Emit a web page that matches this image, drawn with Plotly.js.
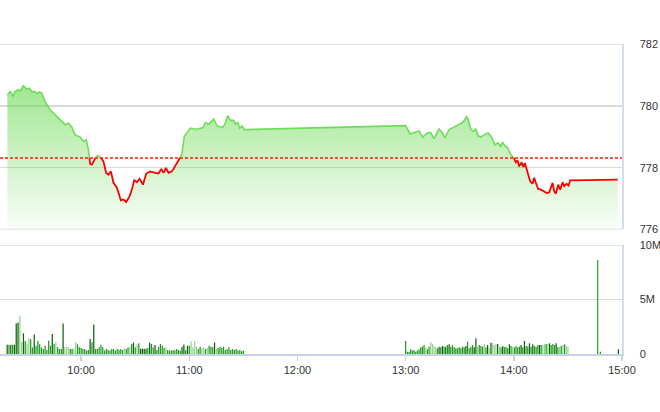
<!DOCTYPE html>
<html><head><meta charset="utf-8">
<script src="https://cdn.plot.ly/plotly-3.0.1.min.js"></script>
<style>html,body{margin:0;padding:0;background:#fff;}#chart{width:660px;height:412px;}</style>
</head><body><div id="chart"></div>
<script>
const day = '2018-01-01 ';
const refPrice = 778.31;
const priceTicks = [776, 778, 780, 782];
const volumeTicks = [0, 5, 10];
const volumeTickText = ['0', '5M', '10M'];

const priceTimes = [
'09:19:04','09:20:33','09:21:30','09:22:23','09:23:20','09:25:10','09:26:07','09:27:56','09:29:50','09:31:17',
'09:32:37','09:34:27','09:35:23','09:36:50','09:38:10','09:40:00','09:42:47','09:45:33','09:48:20','09:51:07',
'09:52:57','09:54:50','09:56:40','09:59:27','10:01:17','10:02:47','10:04:03','10:05:00','10:05:57','10:07:13',
'10:09:03','10:10:33','10:12:23','10:13:53','10:15:10','10:16:30','10:17:57','10:19:50','10:20:43','10:22:03',
'10:23:30','10:25:00','10:26:50','10:28:10','10:29:27','10:30:57','10:32:23','10:34:17','10:36:07','10:38:20',
'10:41:07','10:42:57','10:44:27','10:45:43','10:47:03','10:48:30','10:50:23','10:52:13','10:54:03','10:55:57',
'10:57:13','10:58:43','11:00:33','11:02:23','11:05:10','11:07:37','11:08:53','11:10:43','11:13:30','11:15:23',
'11:17:13','11:18:30','11:20:00','11:21:17','11:22:47','11:24:37','11:25:33','11:26:50','11:27:57','11:29:17',
'11:30:33',
'13:00:00','13:02:23','13:04:37','13:07:23','13:09:26','13:12:03','13:13:53','13:15:43','13:18:30','13:20:23',
'13:21:50','13:24:03','13:26:50','13:29:37','13:31:30','13:32:47','13:33:43','13:34:37','13:36:07','13:37:37',
'13:38:53','13:40:10','13:41:40','13:43:30','13:45:43','13:47:37','13:49:27','13:51:17','13:52:47','13:53:43',
'13:55:00','13:56:30','13:58:20','13:59:50','14:01:07','14:02:03','14:02:57','14:04:17','14:05:23','14:06:07',
'14:07:37','14:09:03','14:10:23','14:11:17','14:12:13','14:13:30','14:15:00','14:16:50','14:18:20','14:19:37',
'14:21:30','14:22:23','14:23:20','14:24:37','14:25:43','14:27:03','14:27:57','14:29:17','14:30:23','14:31:17',
'14:57:37'
];
const priceValues = [
780.35,780.46,780.41,780.30,780.46,780.52,780.48,780.65,780.54,780.57,
780.46,780.46,780.39,780.45,780.41,780.14,779.87,779.71,779.57,779.39,
779.44,779.31,779.06,778.99,778.85,778.90,778.58,778.12,778.10,778.26,
778.39,778.35,778.20,777.83,777.77,777.88,777.51,777.35,777.18,776.94,
776.97,776.89,777.07,777.29,777.59,777.53,777.64,777.45,777.81,777.88,
777.83,777.81,777.96,777.83,777.99,777.83,777.88,778.06,778.20,778.47,
779.01,779.12,779.28,779.25,779.26,779.30,779.46,779.41,779.57,779.35,
779.33,779.30,779.44,779.68,779.53,779.53,779.41,779.46,779.28,779.35,
779.23,
779.36,779.09,779.14,779.19,778.99,779.12,779.14,778.93,779.25,779.12,
778.96,779.23,779.31,779.39,779.46,779.55,779.65,779.57,779.25,779.17,
779.25,779.03,778.99,779.06,779.12,778.99,778.74,778.80,778.69,778.82,
778.71,778.64,778.42,778.33,778.17,778.24,778.04,778.17,778.02,778.15,
777.88,777.56,777.48,777.67,777.51,777.31,777.29,777.24,777.18,777.20,
777.51,777.24,777.16,777.45,777.29,777.53,777.40,777.48,777.42,777.59,
777.61
];

// Volume (millions), morning session one bar per minute 09:19 -> 11:30
const morningStart = '09:19:00', morningEnd = '11:30:00';
const morningVolumes = [
0.85,0.85,0.85,0.85,0.85,2.8,2.9,3.5,1.1,1.9,
1.2,0.92,1.45,1.35,0.6,1.8,0.76,1.2,0.9,0.6,
0.46,0.76,0.37,1.22,0.76,1.83,0.92,1.07,0.61,0.46,
0.46,2.8,0.61,0.66,0.61,0.46,0.46,0.52,1.1,0.9,
0.61,0.55,0.46,0.46,0.31,0.37,1.38,1.07,2.7,0.46,
0.46,0.61,0.85,0.61,0.31,0.46,0.37,0.31,0.46,0.46,
0.31,0.46,0.4,0.46,0.37,0.55,0.46,0.6,0.67,0.92,
1.04,0.61,0.86,0.98,0.49,0.49,0.49,0.49,0.55,1.04,
0.92,0.61,0.83,0.37,0.67,0.92,0.76,0.55,0.61,0.37,
0.31,0.31,0.37,0.31,0.46,0.37,0.31,0.67,0.86,0.37,
0.76,0.76,1.16,0.61,1.22,0.67,0.46,0.67,0.55,0.61,
0.46,0.55,0.76,0.67,0.61,1.07,0.46,0.55,0.67,0.55,
0.67,0.37,0.46,0.61,0.37,0.46,0.37,0.46,0.31,0.37,
0.25,0.31
];
const morningClass = 'dmdmdddlldmllmmdmmmmmmmmmdmlmmmdlllmmllmmmmmmmdmdmmmmmmmmmmmmmmmmlmmlmdmlmddddmdmmdmmmmmlmmmmmmmmddmdmllllmmllmlmmmdlmmmmmmmmmmmmmmm';

// afternoon session 13:00 -> 14:30
const afternoonStart = '13:00:00', afternoonEnd = '14:30:00';
const afternoonVolumes = [
1.19,0.21,0.21,0.43,0.31,0.37,0.21,0.31,0.43,0.61,
0.67,0.83,0.61,0.43,0.67,1.07,0.92,0.73,0.61,0.52,
0.67,0.61,0.73,0.67,0.67,0.83,0.89,0.67,0.83,0.61,
0.52,0.52,0.61,0.52,0.67,0.61,0.73,1.13,0.52,0.67,
0.83,0.61,1.44,0.67,0.83,0.73,0.67,0.89,0.61,0.83,
0.52,1.04,0.98,0.83,0.89,0.92,0.67,0.61,0.73,0.61,
0.67,0.52,0.89,0.73,0.67,0.61,0.73,0.61,0.67,0.83,
0.61,1.19,0.73,0.67,0.98,0.67,0.89,0.73,0.67,0.83,
0.83,0.83,0.83,0.89,0.92,0.92,0.98,0.83,0.92,0.83,
0.98,0.61,0.67,0.73,0.83,0.89,0.73,0.67
];
const afternoonClass = 'mmmmmmmmmmmmlmmllllmdmdmdmdmmmmmmmmmdmmmmddlmmmlmdldllldlmdmmmdmlmmmmdmdmmdmdmmmdmllmldmmmdmlmlmll';

// closing auction
const closeTimes = ['14:46:30','14:48:00','14:58:00'];
const closeVolumes = [8.62, 0.2, 0.43];
const closeClass = 'amd';

const classColors = {d:'#0b650b', m:'#1f9a1f', l:'#92d48d', a:'#27ab27'};

const pad = n => String(n).padStart(2,'0');
const sec = t => { const p = t.split(':').map(Number); return p[0]*3600 + p[1]*60 + (p[2]||0); };
const fmt = s => { if (s === null) return null; s = Math.round(s); return day + pad(Math.floor(s/3600)) + ':' + pad(Math.floor(s%3600/60)) + ':' + pad(s%60); };

// split price line into above/below reference runs
const T = priceTimes.map(sec);
const runs = {g:{x:[],y:[]}, r:{x:[],y:[]}};
let cur = priceValues[0] >= refPrice ? 'g' : 'r';
runs[cur].x.push(T[0]); runs[cur].y.push(priceValues[0]);
for (let i = 1; i < T.length; i++) {
  const c = priceValues[i] >= refPrice ? 'g' : 'r';
  if (c !== cur) {
    const f = (refPrice - priceValues[i-1]) / (priceValues[i] - priceValues[i-1]);
    const tc = T[i-1] + f * (T[i] - T[i-1]);
    runs[cur].x.push(tc, null); runs[cur].y.push(refPrice, null);
    runs[c].x.push(tc); runs[c].y.push(refPrice);
    cur = c;
  }
  runs[cur].x.push(T[i]); runs[cur].y.push(priceValues[i]);
}

function spread(start, end, n) {
  const a = sec(start), b = sec(end);
  const out = [];
  for (let i = 0; i < n; i++) out.push(fmt(a + (b - a) * i / (n - 1)));
  return out;
}
const volX = spread(morningStart, morningEnd, morningVolumes.length)
  .concat(spread(afternoonStart, afternoonEnd, afternoonVolumes.length))
  .concat(closeTimes.map(t => fmt(sec(t))));
const volY = morningVolumes.concat(afternoonVolumes, closeVolumes);
const volC = (morningClass + afternoonClass + closeClass).split('').map(k => classColors[k]);

const xRange = [day + '09:15:00', day + '15:00:00'];
const priceRange = [priceTicks[0], priceTicks[priceTicks.length-1]];
const volRange = [volumeTicks[0], volumeTicks[volumeTicks.length-1]];

const traces = [
  {x: T.map(fmt), y: priceValues, type:'scatter', mode:'lines', line:{width:0, color:'rgba(0,0,0,0)'},
   fill:'tozeroy', fillgradient:{type:'vertical', start:776, stop:780.7,
     colorscale:[[0,'rgba(95,215,70,0.03)'],[1,'rgba(95,215,70,0.6)']]},
   hoverinfo:'skip', xaxis:'x', yaxis:'y'},
  {x: runs.g.x.map(fmt), y: runs.g.y, type:'scatter', mode:'lines', connectgaps:false,
   line:{color:'#6fdc5c', width:1.6}, hoverinfo:'skip', xaxis:'x', yaxis:'y'},
  {x: runs.r.x.map(fmt), y: runs.r.y, type:'scatter', mode:'lines', connectgaps:false,
   line:{color:'#ff0000', width:1.8}, hoverinfo:'skip', xaxis:'x', yaxis:'y'},
  {x: volX, y: volY, type:'bar', marker:{color: volC, line:{width:0}}, hoverinfo:'skip', xaxis:'x2', yaxis:'y2'}
];

const gridColor = '#dadada';
const edgeGrid = (yref, v) => ({type:'line', layer:'below', xref:'paper', x0:0, x1:1, yref:yref, y0:v, y1:v,
  line:{color:gridColor, width:1.5}});

const tickFont = {family:'"Liberation Sans", Arial, sans-serif', size:11, color:'#333'};
const layout = {
  width:660, height:412, margin:{l:0, r:38, t:0, b:0},
  paper_bgcolor:'#fff', plot_bgcolor:'rgba(0,0,0,0)', showlegend:false,
  font: tickFont, bargap:0.25,
  xaxis:{type:'date', range:xRange, visible:false, anchor:'y', domain:[0,1], fixedrange:true},
  yaxis:{domain:[0.443,0.8932], range:priceRange, side:'right', tickvals:priceTicks,
    gridcolor:gridColor, gridwidth:1.5, showline:true, linecolor:'#d3dde8', linewidth:1.5,
    zeroline:false, ticks:'outside', ticklen:14, tickcolor:'rgba(0,0,0,0)', tickfont:tickFont, fixedrange:true},
  xaxis2:{type:'date', anchor:'y2', range:xRange, domain:[0,1], tickformat:'%H:%M', dtick:3600000,
    tick0: day + '10:00:00', showgrid:false, showline:true, linecolor:'#c5d3e2', linewidth:2,
    ticks:'outside', ticklen:5, tickwidth:1.5, tickcolor:'#c5d3e2', tickfont:tickFont, zeroline:false},
  yaxis2:{domain:[0.1408,0.4053], range:volRange, side:'right', tickvals:volumeTicks, ticktext:volumeTickText,
    gridcolor:gridColor, gridwidth:1.5, showline:true, linecolor:'#d3dde8', linewidth:1.5,
    zeroline:false, ticks:'outside', ticklen:14, tickcolor:'rgba(0,0,0,0)', tickfont:tickFont, fixedrange:true},
  shapes:[
    edgeGrid('y', priceRange[0]), edgeGrid('y', priceRange[1]), edgeGrid('y2', volRange[1]),
    {type:'line', xref:'paper', x0:0, x1:1, yref:'y', y0:refPrice, y1:refPrice,
     line:{color:'#ff1a00', width:1.5, dash:'3px,2px'}}]
};

Plotly.newPlot('chart', traces, layout, {displayModeBar:false, staticPlot:true});
</script>
</body></html>
